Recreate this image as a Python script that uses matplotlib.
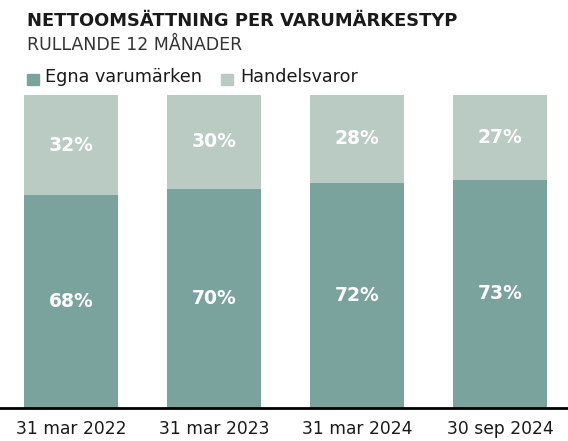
import matplotlib.pyplot as plt
from matplotlib.patches import Rectangle

# Data
periods = ['31 mar 2022', '31 mar 2023', '31 mar 2024', '30 sep 2024']
egna = [68, 70, 72, 73]
handel = [32, 30, 28, 27]

dark = '#7ba39e'
light = '#b9cbc3'
txt = '#1a1a1a'

W, H = 568, 441
fig = plt.figure(figsize=(W/100, H/100), dpi=100)
ax = fig.add_axes([0, 1 - 408/H, 1, (408 - 95)/H])

x = range(len(periods))
ax.bar(x, egna, width=0.657, color=dark)
ax.bar(x, handel, bottom=egna, width=0.657, color=light)

for i in x:
    ax.text(i, egna[i]/2, f'{egna[i]}%', ha='center', va='center',
            color='white', fontsize=13.5, fontweight='bold')
    ax.text(i, egna[i] + handel[i]/2, f'{handel[i]}%', ha='center', va='center',
            color='white', fontsize=13.5, fontweight='bold')

ax.set_xlim(-0.497, 3.476)
ax.set_ylim(0, 100)
ax.set_yticks([])
ax.set_xticks(list(x))
ax.set_xticklabels(periods, fontsize=12.3, color=txt)
ax.tick_params(axis='x', length=0, pad=8.5)
for s in ['top', 'left', 'right']:
    ax.spines[s].set_visible(False)
ax.spines['bottom'].set_linewidth(2)
ax.spines['bottom'].set_color('black')

# Title, subtitle and legend
fig.text(27/W, 1 - 21/H, 'NETTOOMSÄTTNING PER VARUMÄRKESTYP', fontsize=12.9,
         fontweight='bold', color=txt, va='center')
fig.text(27/W, 1 - 45/H, 'RULLANDE 12 MÅNADER', fontsize=12.5, color='#333333', va='center')

fig.patches.append(Rectangle((27/W, 1 - 85/H), 12/W, 11/H, transform=fig.transFigure,
                             color=dark))
fig.text(45/W, 1 - 77/H, 'Egna varumärken', fontsize=12.7, color=txt, va='center')
fig.patches.append(Rectangle((221/W, 1 - 85/H), 12/W, 11/H, transform=fig.transFigure,
                             color=light))
fig.text(240/W, 1 - 77/H, 'Handelsvaror', fontsize=12.7, color=txt, va='center')

fig.savefig('out.png', dpi=100)
